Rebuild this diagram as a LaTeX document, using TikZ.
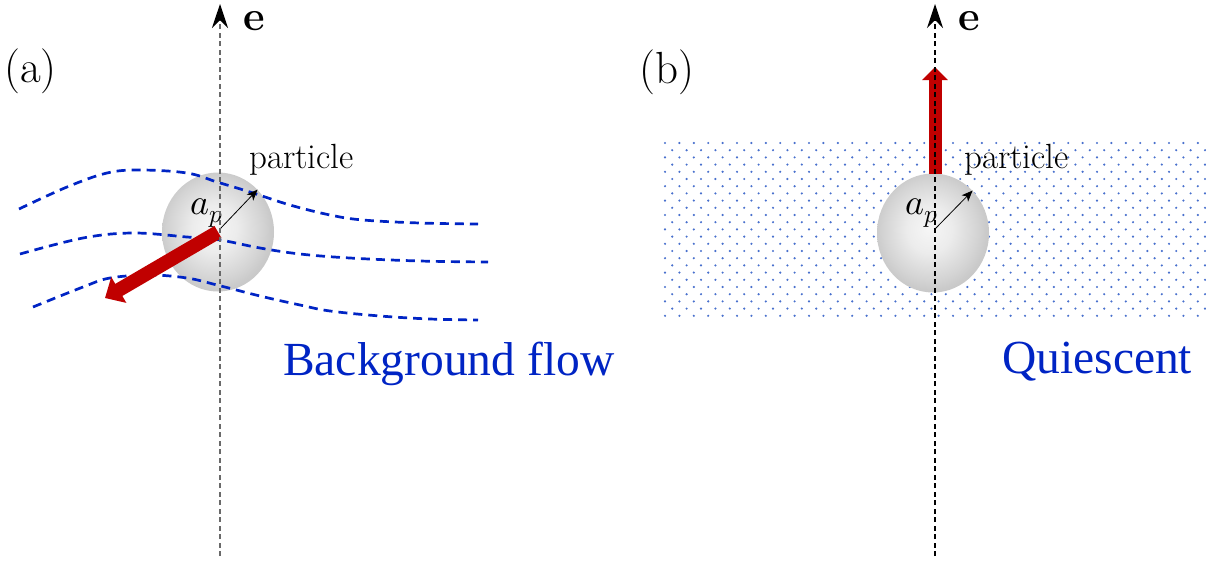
\documentclass[tikz,border=0pt]{standalone}
\usepackage{fontspec}
\usepackage{unicode-math}
\setmathfont{Latin Modern Math}
\usetikzlibrary{arrows.meta,shapes.geometric}
\newfontfamily\labelserif{Liberation Serif}
\definecolor{flowblue}{RGB}{0,36,196}
\definecolor{dotblue}{RGB}{72,112,205}
\definecolor{forcered}{RGB}{192,0,0}
\definecolor{axisgray}{RGB}{105,105,105}
\pgfdeclareradialshading{spheregray}{\pgfpoint{-2bp}{2bp}}{%
  color(0bp)=(gray!7); color(10bp)=(gray!15); color(21bp)=(gray!34);
  color(25bp)=(gray!42); color(50bp)=(gray!42)}
\tikzset{
  sphere/.style={ellipse, draw=none, inner sep=0pt, minimum width=112pt,
    minimum height=119pt, shading=spheregray},
  axisline/.style={line width=1.1pt, dash pattern=on 5pt off 3.5pt,
    -{Stealth[length=24pt,width=16pt,inset=8pt,black]}},
  streamline/.style={flowblue, line width=2.7pt, dash pattern=on 9pt off 6pt},
  radiusarrow/.style={line width=0.8pt, -{Stealth[length=11pt,width=9pt,inset=3pt]}},
  forcearrow/.style={forcered, line width=#1},
  caption/.style={font=\fontsize{45}{50}\selectfont, inner sep=0pt, anchor=base west},
  dirlabel/.style={font=\fontsize{42}{48}\selectfont\bfseries, inner sep=0pt, anchor=base west},
  particlelabel/.style={font=\fontsize{35}{40}\selectfont, inner sep=0pt, anchor=base west},
  radiuslabel/.style={inner sep=0pt, anchor=base west},
  flowlabel/.style={font=\labelserif\fontsize{47.5}{52}\selectfont, text=flowblue,
    inner sep=0pt, anchor=base west},
}
\newcommand{\radiussym}{{\fontsize{36}{42}\selectfont$a_p$}}
\begin{document}
\begin{tikzpicture}[x=1pt,y=-1pt]
\useasboundingbox (0,0) rectangle (1206,563);

% ---------- panel (a): particle in a background flow ----------
\node[sphere] (sphA) at (218,232) {};

% streamlines of the background flow
\draw[streamline] plot[smooth, tension=0.6] coordinates {
  (19,209) (67,187) (107,173) (140,170) (187,173) (217,182) (250,192)
  (290,205) (330,215) (363,220) (420,223) (478,224)};
\draw[streamline] plot[smooth, tension=0.6] coordinates {
  (20,254) (83,238) (133,233) (187,237) (220,240) (260,248) (300,254)
  (350,258) (420,261) (488,262)};
\draw[streamline] plot[smooth, tension=0.6] coordinates {
  (33,307) (83,287) (110,278) (150,275) (187,278) (217,285) (260,296)
  (300,305) (330,311) (380,316) (430,319) (478,320)};

% swimming direction of the particle
\coordinate (tipA) at (105,298);
\draw[forcearrow=14pt, -{Triangle[length=16pt,width=29pt]}] (sphA.center) -- (tipA);

% radius
\coordinate (rA) at (220,229);
\draw[radiusarrow] (rA) -- (sphA.47);
\node[radiuslabel] (apA) at (190,214) {\radiussym};
\node[particlelabel] (partA) at (249,168) {particle};

% symmetry axis e
\coordinate (axA0) at (220,556);
\coordinate (axA1) at (220,4);
\draw[axisline, axisgray] (axA0) -- (axA1);
\node[dirlabel] (eA) at (243,30) {e};

\node[caption] (capA) at (4,82) {(a)};
\node[flowlabel] (bgflow) at (283,375) {Background flow};

% ---------- panel (b): particle in quiescent fluid ----------
\begin{scope}
\clip (663,140) rectangle (1206,321);
\foreach \r in {0,...,24}{
  \foreach \c in {0,...,37}{
    \pgfmathsetmacro{\dx}{665+14.4*\c+7.2*mod(\r,2)}
    \pgfmathsetmacro{\dy}{143+7.2*\r}
    \fill[dotblue] (\dx,\dy) circle (1.2pt);
  }
}
\end{scope}

\node[sphere] (sphB) at (933,233) {};

\coordinate (baseB) at (935,174);
\coordinate (tipB) at (935,67);
\draw[forcearrow=13pt, -{Triangle[length=13pt,width=25pt]}] (baseB) -- (tipB);

\coordinate (rB) at (935,229);
\draw[radiusarrow] (rB) -- (sphB.47);
\node[radiuslabel] (apB) at (905,214) {\radiussym};
\node[particlelabel] (partB) at (964,168) {particle};

\coordinate (axB0) at (935,556);
\coordinate (axB1) at (935,4);
\draw[axisline, black] (axB0) -- (axB1);
\node[dirlabel] (eB) at (958,30) {e};

\node[caption] (capB) at (639,83) {(b)};
\node[flowlabel] (quiet) at (1002,373) {Quiescent};
\end{tikzpicture}
\end{document}
